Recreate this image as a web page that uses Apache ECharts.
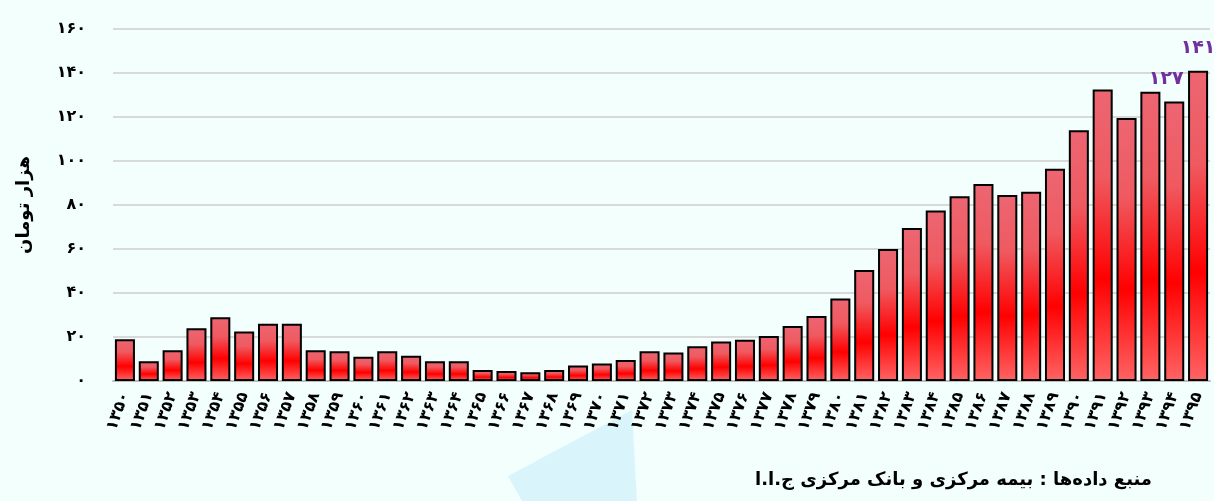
<!DOCTYPE html>
<html><head><meta charset="utf-8">
<script src="https://cdn.jsdelivr.net/npm/echarts@6/dist/echarts.min.js"></script>
<style>html,body{margin:0;padding:0;background:#f3fffd;}#c{width:1214px;height:501px;}</style>
</head><body><div id="c"></div>
<script>
var years = [1350,1351,1352,1353,1354,1355,1356,1357,1358,1359,1360,1361,1362,1363,1364,1365,1366,1367,1368,1369,1370,1371,1372,1373,1374,1375,1376,1377,1378,1379,1380,1381,1382,1383,1384,1385,1386,1387,1388,1389,1390,1391,1392,1393,1394,1395];
var values = [19,9,14,24,29,22.5,26,26,14,13.5,11,13.5,11.5,9,9,5,4.5,4,5,7,8,9.5,13.5,13,15.8,18,18.8,20.5,25,29.5,37.5,50.5,60,69.5,77.5,84,89.5,84.5,86,96.5,114,132.5,119.5,131.5,127,141];
var labeledYears = [1394,1395];
var yTicks = [0,20,40,60,80,100,120,140,160];
var yTitle = 'هزار تومان';
var sourceText = 'منبع داده‌ها : بیمه مرکزی و بانک مرکزی ج.ا.ا';

function fa(n){ return String(n).replace(/[0-9]/g, function(d){ return '۰۱۲۳۴۵۶۷۸۹'[+d]; }); }
var FONT = 'DejaVu Sans';
var chart = echarts.init(document.getElementById('c'));
var data = values.map(function(v,i){
  var show = labeledYears.indexOf(years[i]) >= 0;
  return {value: v, label: {show: show, offset: years[i]===1394 ? [-8,-8] : [0,-8]}};
});
chart.setOption({
  backgroundColor: '#f3fffd',
  animation: false,
  grid: {left: 113, right: 4, top: 29, bottom: 120},
  xAxis: {
    type: 'category', data: years.map(fa),
    axisLine: {lineStyle: {color: '#bdbdbd', width: 2}},
    axisTick: {show: false},
    axisLabel: {interval: 0, rotate: 70, color: '#000', fontFamily: FONT, fontWeight: 'bold', fontSize: 16, margin: 12}
  },
  yAxis: {
    type: 'value', min: yTicks[0], max: yTicks[yTicks.length-1], interval: 20,
    name: yTitle, nameLocation: 'middle', nameRotate: 90, nameGap: 80,
    nameTextStyle: {color: '#000', fontFamily: FONT, fontWeight: 'bold', fontSize: 18},
    axisLine: {show: false}, axisTick: {show: false},
    splitLine: {lineStyle: {color: '#d9d9d9', width: 2}},
    axisLabel: {color: '#000', fontFamily: FONT, fontWeight: 'bold', fontSize: 16, margin: 27, formatter: function(v){ return fa(v); }}
  },
  series: [{
    type: 'bar', data: data, barCategoryGap: '16%',
    itemStyle: {
      borderColor: '#000', borderWidth: 2,
      color: new echarts.graphic.LinearGradient(0,0,0,1,[
        {offset: 0, color: '#ec6672'},
        {offset: 0.3, color: '#ef5a60'},
        {offset: 0.65, color: '#ff0000'},
        {offset: 1, color: '#ff6464'}
      ])
    },
    label: {position: 'top', color: '#7030a0', fontFamily: FONT, fontWeight: 'bold', fontSize: 19, formatter: function(p){ return fa(Math.round(p.value)); }}
  }],
  graphic: [
    {type: 'polygon', z: -1, shape: {points: [[508,476],[632,410],[637,501],[522,501]]}, style: {fill: '#cdeefc', opacity: 0.65}},
    {type: 'text', right: 62, top: 471, style: {text: sourceText, fill: '#000', font: 'bold 18px "DejaVu Sans"'}}
  ]
});
</script></body></html>
